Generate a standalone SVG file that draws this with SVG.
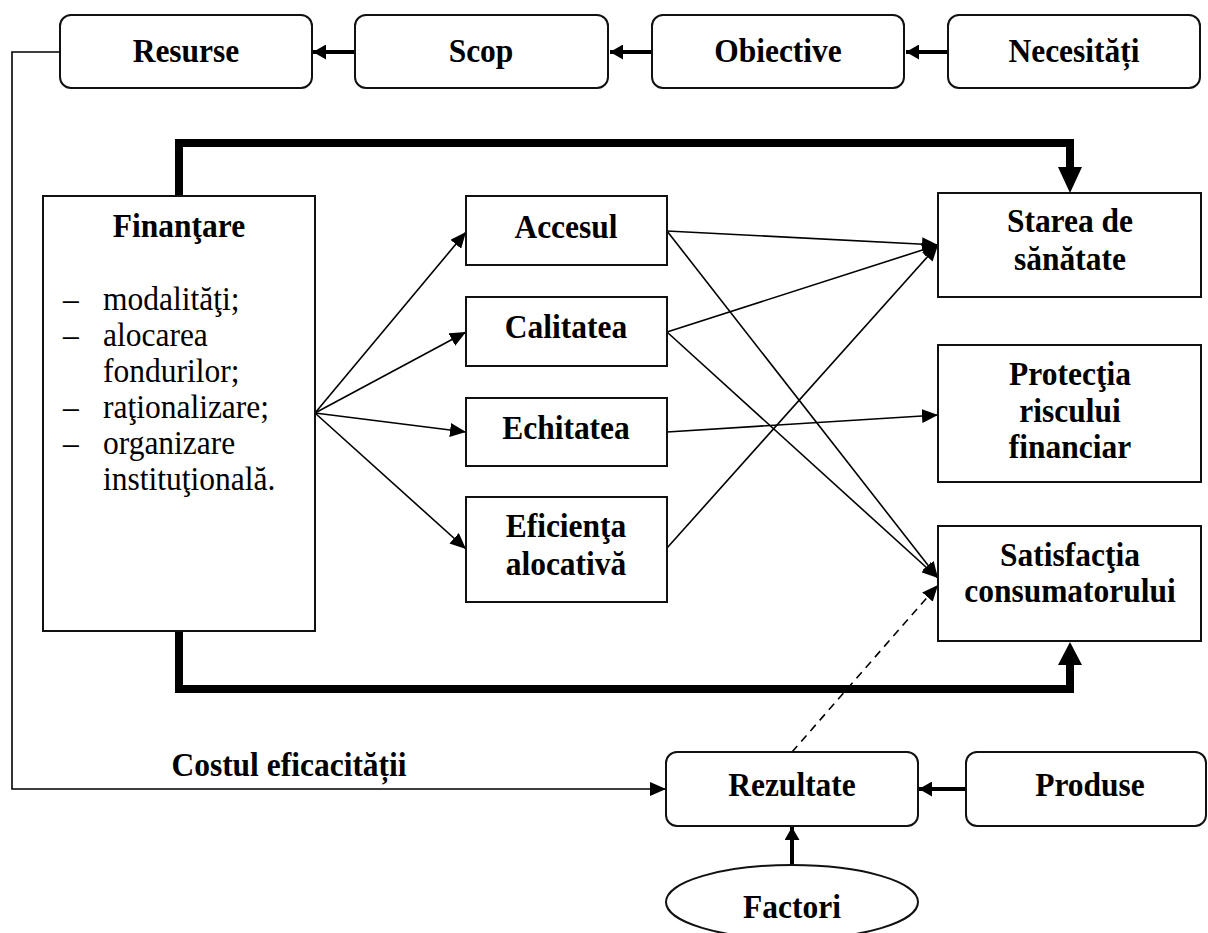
<svg xmlns="http://www.w3.org/2000/svg" width="1208" height="933" viewBox="0 0 1208 933">
<style>
text{font-family:"Liberation Serif","Times New Roman",serif;font-size:31.5px;fill:#000}
.b{font-weight:bold;text-anchor:middle}
.box{fill:#fff;stroke:#111;stroke-width:2}
.thin{fill:none;stroke:#000;stroke-width:1.6}
.med{fill:none;stroke:#000;stroke-width:4}
.thick{fill:none;stroke:#000;stroke-width:8}
</style>
<defs>
<marker id="a" viewBox="0 0 16 14" refX="16" refY="7" markerWidth="16" markerHeight="14" markerUnits="userSpaceOnUse" orient="auto"><path d="M0,0 L16,7 L0,14 z" fill="#000"/></marker>
<marker id="m" viewBox="0 0 13 15" refX="13" refY="7.5" markerWidth="13" markerHeight="15" markerUnits="userSpaceOnUse" orient="auto"><path d="M0,0 L13,7.5 L0,15 z" fill="#000"/></marker>
</defs>
<rect width="1208" height="933" fill="#fff"/>
<g id="connectors">
<polyline class="thin" points="60,52 12,52 12,789 666,789" marker-end="url(#a)"/>
<line class="med" x1="355" y1="52" x2="313" y2="52" marker-end="url(#m)"/>
<line class="med" x1="652" y1="52" x2="610" y2="52" marker-end="url(#m)"/>
<line class="med" x1="948" y1="52" x2="906" y2="52" marker-end="url(#m)"/>
<line class="med" x1="966" y1="789" x2="919" y2="789" marker-end="url(#m)"/>
<line class="med" x1="792" y1="866" x2="792" y2="827" marker-end="url(#m)"/>
<polyline class="thick" points="179,196 179,143 1070,143 1070,168"/>
<polygon points="1058,167 1082,167 1070,193" fill="#000"/>
<polyline class="thick" points="179,631 179,689 1070,689 1070,664"/>
<polygon points="1058,665 1082,665 1070,642" fill="#000"/>
<line class="thin" x1="315" y1="413" x2="466" y2="232" marker-end="url(#a)"/>
<line class="thin" x1="315" y1="413" x2="466" y2="332" marker-end="url(#a)"/>
<line class="thin" x1="315" y1="413" x2="466" y2="432" marker-end="url(#a)"/>
<line class="thin" x1="315" y1="413" x2="466" y2="549" marker-end="url(#a)"/>
<line class="thin" x1="667" y1="231" x2="938" y2="245" marker-end="url(#a)"/>
<line class="thin" x1="667" y1="231" x2="938" y2="578" marker-end="url(#a)"/>
<line class="thin" x1="667" y1="332" x2="938" y2="245" marker-end="url(#a)"/>
<line class="thin" x1="667" y1="332" x2="938" y2="578" marker-end="url(#a)"/>
<line class="thin" x1="667" y1="432" x2="938" y2="415" marker-end="url(#a)"/>
<line class="thin" x1="667" y1="548" x2="938" y2="245" marker-end="url(#a)"/>
<line class="thin" x1="792" y1="752" x2="938" y2="585" stroke-dasharray="8 6" marker-end="url(#a)"/>
</g>
<g id="resurse"><rect class="box" x="60" y="15" width="252" height="73" rx="11"/><text class="b" x="186" y="62" transform="matrix(1 0 0 1.08 0 -4.96)">Resurse</text></g>
<g id="scop"><rect class="box" x="355" y="15" width="253" height="73" rx="11"/><text class="b" x="481" y="62" transform="matrix(1 0 0 1.08 0 -4.96)">Scop</text></g>
<g id="obiective"><rect class="box" x="652" y="15" width="252" height="73" rx="11"/><text class="b" x="778" y="62" transform="matrix(1 0 0 1.08 0 -4.96)">Obiective</text></g>
<g id="necesitati"><rect class="box" x="948" y="15" width="252" height="73" rx="11"/><text class="b" x="1074" y="62" transform="matrix(1 0 0 1.08 0 -4.96)">Necesități</text></g>
<g id="finantare"><rect class="box" x="43" y="196" width="272" height="435"/>
<text class="b" x="179" y="237" transform="matrix(1 0 0 1.08 0 -18.96)">Finanţare</text>
<text x="63" y="310" transform="matrix(1 0 0 1.08 0 -24.8)">–</text><text x="103" y="310" transform="matrix(1 0 0 1.08 0 -24.8)">modalităţi;</text>
<text x="63" y="346" transform="matrix(1 0 0 1.08 0 -27.68)">–</text><text x="103" y="346" transform="matrix(1 0 0 1.08 0 -27.68)">alocarea</text>
<text x="103" y="382" transform="matrix(1 0 0 1.08 0 -30.56)">fondurilor;</text>
<text x="63" y="418" transform="matrix(1 0 0 1.08 0 -33.44)">–</text><text x="103" y="418" transform="matrix(1 0 0 1.08 0 -33.44)">raţionalizare;</text>
<text x="63" y="454" transform="matrix(1 0 0 1.08 0 -36.32)">–</text><text x="103" y="454" transform="matrix(1 0 0 1.08 0 -36.32)">organizare</text>
<text x="103" y="490" transform="matrix(1 0 0 1.08 0 -39.2)">instituţională.</text>
</g>
<g id="accesul"><rect class="box" x="466" y="196" width="201" height="69"/><text class="b" x="566" y="238" transform="matrix(1 0 0 1.08 0 -19.04)">Accesul</text></g>
<g id="calitatea"><rect class="box" x="466" y="297" width="201" height="69"/><text class="b" x="566" y="338" transform="matrix(1 0 0 1.08 0 -27.04)">Calitatea</text></g>
<g id="echitatea"><rect class="box" x="466" y="398" width="201" height="68"/><text class="b" x="566" y="439" transform="matrix(1 0 0 1.08 0 -35.12)">Echitatea</text></g>
<g id="eficienta"><rect class="box" x="466" y="497" width="201" height="105"/><text class="b" x="566" y="537" transform="matrix(1 0 0 1.08 0 -42.96)">Eficienţa</text><text class="b" x="566" y="575" transform="matrix(1 0 0 1.08 0 -46)">alocativă</text></g>
<g id="starea"><rect class="box" x="938" y="193" width="263" height="104"/><text class="b" x="1070" y="232" transform="matrix(1 0 0 1.08 0 -18.56)">Starea de</text><text class="b" x="1070" y="270" transform="matrix(1 0 0 1.08 0 -21.6)">sănătate</text></g>
<g id="protectia"><rect class="box" x="938" y="345" width="263" height="137"/><text class="b" x="1070" y="385" transform="matrix(1 0 0 1.08 0 -30.8)">Protecţia</text><text class="b" x="1070" y="422" transform="matrix(1 0 0 1.08 0 -33.76)">riscului</text><text class="b" x="1070" y="458" transform="matrix(1 0 0 1.08 0 -36.64)">financiar</text></g>
<g id="satisfactia"><rect class="box" x="938" y="526" width="263" height="115"/><text class="b" x="1070" y="566" transform="matrix(1 0 0 1.08 0 -45.28)">Satisfacţia</text><text class="b" x="1070" y="602" transform="matrix(1 0 0 1.08 0 -48.16)">consumatorului</text></g>
<g id="costul"><text class="b" x="289" y="776" transform="matrix(1 0 0 1.08 0 -62.08)">Costul eficacității</text></g>
<g id="rezultate"><rect class="box" x="666" y="752" width="252" height="74" rx="11"/><text class="b" x="792" y="796" transform="matrix(1 0 0 1.08 0 -63.68)">Rezultate</text></g>
<g id="produse"><rect class="box" x="966" y="752" width="240" height="74" rx="11"/><text class="b" x="1090" y="796" transform="matrix(1 0 0 1.08 0 -63.68)">Produse</text></g>
<g id="factori"><ellipse class="box" cx="792" cy="902" rx="126" ry="37"/><text class="b" x="792" y="918" transform="matrix(1 0 0 1.08 0 -73.44)">Factori</text></g>
</svg>
